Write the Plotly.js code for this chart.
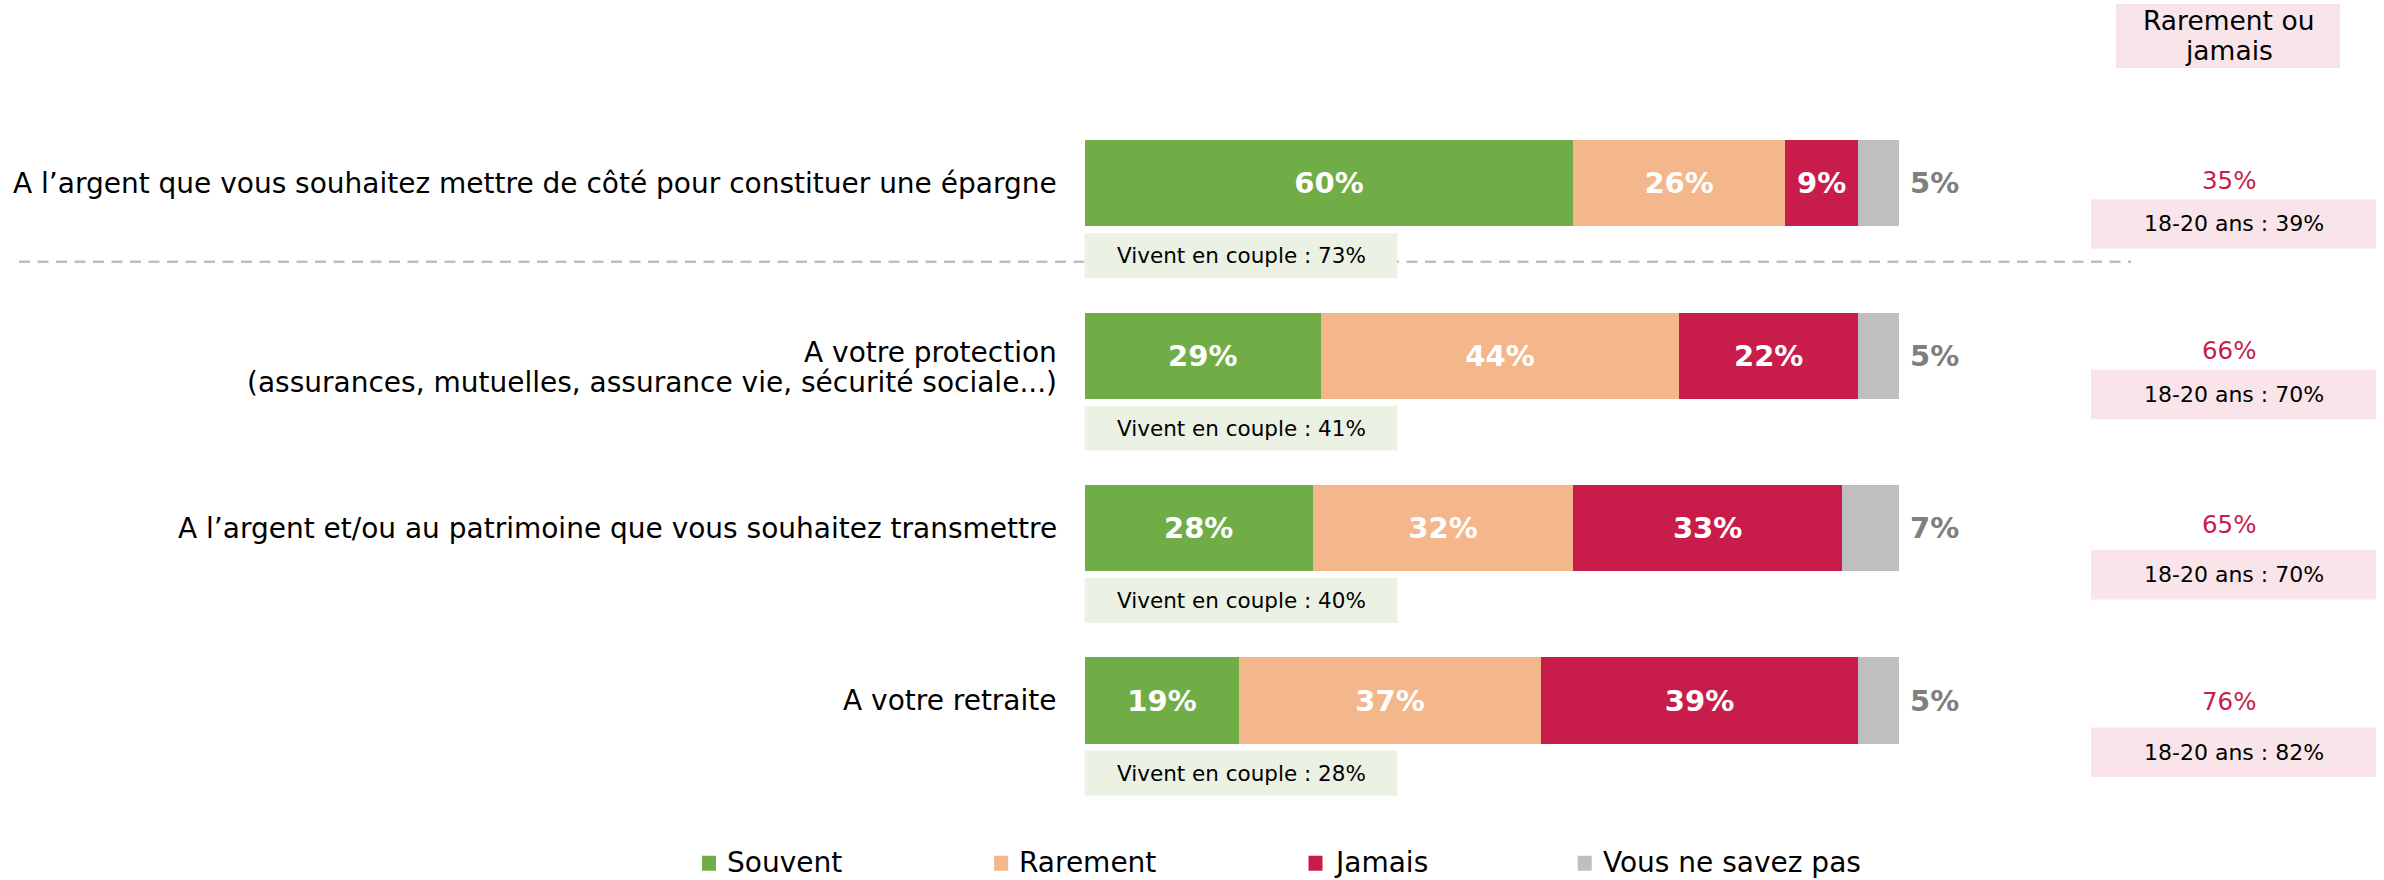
<!DOCTYPE html>
<html><head><meta charset="utf-8">
<script src="https://cdn.plot.ly/plotly-3.0.1.min.js"></script>
<style>html,body{margin:0;padding:0;background:#fff;overflow:hidden}</style>
</head><body><div id="chart" style="width:2384px;height:880px"></div>
<script>
// ---------- DATA ----------
const questions = [
  "A l’argent que vous souhaitez mettre de côté pour constituer une épargne",
  "A votre protection<br>(assurances, mutuelles, assurance vie, sécurité sociale...)",
  "A l’argent et/ou au patrimoine que vous souhaitez transmettre",
  "A votre retraite"
];
const seriesNames = ["Souvent", "Rarement", "Jamais", "Vous ne savez pas"];
const souvent  = [60, 29, 28, 19];
const rarement = [26, 44, 32, 37];
const jamais   = [9, 22, 33, 39];
const nsp      = [5, 5, 7, 5];
const viventEnCouple   = [73, 41, 40, 28];
const rarementOuJamais = [35, 66, 65, 76];
const age1820          = [39, 70, 70, 82];
const headerLines = ["Rarement ou", "jamais"];
const coupleLabel = "Vivent en couple : ";
const ageLabel = "18-20 ans : ";

// ---------- STYLE / LAYOUT ----------
const colors = ["#70AD47", "#F4B68B", "#C81D4A", "#BFBFBF"];
const FONT = "DejaVu Sans";
const W = 2384, H = 880;
const PXU = 8.143;            // px per x unit
const X0 = 1084.7;            // px of x = 0
const ROW = 172.5;            // px per category
const MT = 97;
const PLOT_H = 4.1 * ROW;
const MB = H - MT - PLOT_H;
const px2x = p => (p - X0) / PXU;
const xp = p => p / W;
const yp = p => (MT + PLOT_H - p) / PLOT_H;
const coupleBoxW = 38.4;      // x units
const rightValueOffset = [-3, -5, -4, 1];   // px (down)
const rightBoxTop = [16, 14, 22, 27];       // px below row centre
const RIGHT_BOX_H = 49.5;

const allSeries = [souvent, rarement, jamais, nsp];
const traces = allSeries.map((vals, k) => ({
  type: "bar", orientation: "h", name: seriesNames[k],
  y: questions, x: vals,
  marker: {color: colors[k], line: {width: 0}},
  texttemplate: k < 3 ? "<b>%{x}%</b>" : "",
  textposition: k < 3 ? "inside" : "none",
  insidetextanchor: "middle", textangle: 0, constraintext: "none",
  textfont: {family: FONT, size: 29, color: "#FFFFFF"},
  hoverinfo: "skip", cliponaxis: false
}));

const shapes = [];
const annotations = [];
const ann = o => annotations.push(Object.assign({showarrow: false, xanchor: "center", yanchor: "middle"}, o));

// dashed separator
shapes.push({type: "line", xref: "x", yref: "y", x0: px2x(19), x1: px2x(2131), y0: 0.455, y1: 0.455,
  line: {color: "#BFBFBF", width: 2.5, dash: "11px,7.5px"}});

questions.forEach((q, i) => {
  // left labels
  const lines = q.split("<br>");
  lines.forEach((ln, j) => {
    ann({xref: "x", yref: "y", x: 0, y: i, xshift: -26,
      yshift: lines.length > 1 ? 3 - 30 * j : 0,
      xanchor: "right", text: ln,
      font: {family: FONT, size: 28, color: "#000000"}});
  });
  // couple box
  shapes.push({type: "rect", xref: "x", yref: "y", x0: 0, x1: coupleBoxW,
    y0: i + 50 / ROW, y1: i + 95 / ROW, fillcolor: "#EBF1E3", line: {width: 0}});
  ann({xref: "x", yref: "y", x: coupleBoxW / 2, y: i + 72.5 / ROW,
    text: coupleLabel + viventEnCouple[i] + "%",
    font: {family: FONT, size: 21.5, color: "#000000"}});
  // NSP label outside
  const total = allSeries.reduce((s, arr) => s + arr[i], 0);
  ann({xref: "x", yref: "y", x: total, y: i, xshift: 9, xanchor: "left",
    text: "<b>" + nsp[i] + "%</b>",
    font: {family: FONT, size: 29, color: "#7F7F7F"}});
  // right column
  ann({xref: "x", yref: "y", x: px2x(2229), y: i, yshift: -rightValueOffset[i],
    text: rarementOuJamais[i] + "%",
    font: {family: FONT, size: 24.5, color: "#C81D4A"}});
  const b0 = i + rightBoxTop[i] / ROW, b1 = b0 + RIGHT_BOX_H / ROW;
  shapes.push({type: "rect", xref: "x", yref: "y", x0: px2x(2091), x1: px2x(2376),
    y0: b0, y1: b1, fillcolor: "#F9E5E9", line: {width: 0}});
  ann({xref: "x", yref: "y", x: px2x(2233.5), y: (b0 + b1) / 2,
    text: ageLabel + age1820[i] + "%",
    font: {family: FONT, size: 22, color: "#000000"}});
});

// header
shapes.push({type: "rect", xref: "paper", yref: "paper", x0: xp(2116), x1: xp(2340),
  y0: yp(68), y1: yp(4), fillcolor: "#F9E5E9", line: {width: 0}});
[20.5, 50.5].forEach((py, j) => ann({xref: "paper", yref: "paper",
  x: xp(2228.5), y: yp(py), text: headerLines[j],
  font: {family: FONT, size: 26.5, color: "#000000"}}));

// legend (custom, spacing as in original)
const ctx = document.createElement("canvas").getContext("2d");
ctx.font = '28px "' + FONT + '"';
let lx = 702;
seriesNames.forEach((nm, k) => {
  shapes.push({type: "rect", xref: "paper", yref: "paper", x0: xp(lx), x1: xp(lx + 14),
    y0: yp(871), y1: yp(856), fillcolor: colors[k], line: {width: 0}});
  const tx = lx + 23;
  ann({xref: "paper", yref: "paper", x: xp(tx), y: yp(862.5),
    xanchor: "left", text: nm,
    font: {family: FONT, size: 28, color: "#000000"}});
  lx = tx + ctx.measureText(nm).width + 154;
});

const layout = {
  width: W, height: H, barmode: "stack", bargap: 0.5,
  showlegend: false, hovermode: false,
  paper_bgcolor: "#FFFFFF", plot_bgcolor: "#FFFFFF",
  margin: {l: 0, r: 0, t: MT, b: MB, pad: 0},
  xaxis: {range: [px2x(0), px2x(W)], autorange: false, showgrid: false, zeroline: false,
    showticklabels: false, ticks: "", showline: false, fixedrange: true},
  yaxis: {type: "category", categoryorder: "array", categoryarray: questions,
    range: [3.6, -0.5], autorange: false, showgrid: false, zeroline: false,
    showticklabels: false, ticks: "", showline: false, fixedrange: true},
  shapes: shapes, annotations: annotations,
  font: {family: FONT}
};
Plotly.newPlot("chart", traces, layout, {displayModeBar: false, staticPlot: true});
</script></body></html>
